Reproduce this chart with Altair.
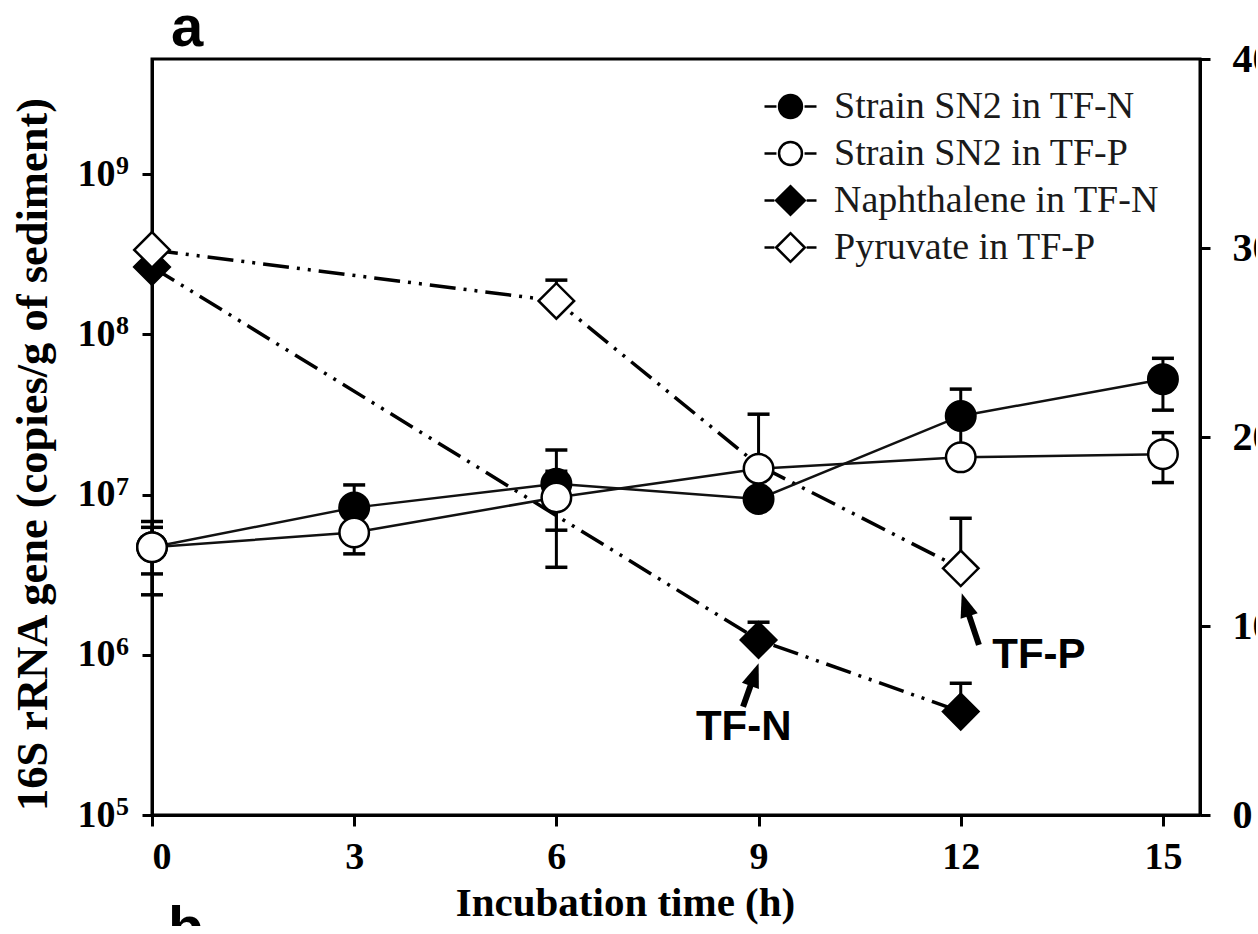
import altair as alt
import pandas as pd

# ---- 16S rRNA gene copies of strain SN2 (left axis, log scale) ----
hours = [0, 3, 6, 9, 12, 15]
sn2_tfn = [4.70e6, 8.3e6, 1.17e7, 9.4e6, 3.10e7, 5.26e7]
sn2_tfn_lo = [3.2e6, 5.2e6, 6.0e6, None, 1.7e7, 3.37e7]
sn2_tfn_hi = [6.8e6, 1.15e7, 1.90e7, None, 4.56e7, 7.1e7]
sn2_tfp = [4.70e6, 5.8e6, 9.6e6, 1.45e7, 1.71e7, 1.79e7]
sn2_tfp_lo = [2.37e6, 4.27e6, 3.52e6, None, None, 1.19e7]
sn2_tfp_hi = [6.25e6, 7.4e6, 1.4e7, 3.18e7, None, 2.44e7]

# ---- substrate concentrations (right axis) ----
naph_hours = [0, 9, 12]
naph = [29.0, 9.26, 5.47]
naph_hi = [None, 10.2, 6.97]
pyr_hours = [0, 6, 9, 12]
pyr = [29.9, 27.2, 18.5, 13.05]
pyr_hi = [None, 28.3, None, 15.7]

series_names = ["Strain SN2 in TF-N", "Strain SN2 in TF-P",
                "Naphthalene in TF-N", "Pyruvate in TF-P"]
marker_fills = ["black", "white", "black", "white"]

# axis tick values
x_ticks = [0, 3, 6, 9, 12, 15]
decades = [5, 6, 7, 8, 9]
conc_ticks = [0, 10, 20, 30, 40]

# annotations (in data units of the right axis)
arrow_labels = ["TF-N", "TF-P"]
label_t = [8.78, 13.16]
label_v = [4.66, 8.47]
arrow_tail_t = [8.77, 12.27]
arrow_tail_v = [5.73, 9.0]
arrow_head_t = [8.94, 12.07]
arrow_head_v = [7.43, 11.13]
arrow_angle = [20, 342]
panel_letters = ["a", "b"]
letter_t = [0.52, 0.5]
letter_v = [40.7, -7.0]

SERIF = "Liberation Serif"
SANS = "Liberation Sans"

cells = pd.DataFrame({
    "t": hours + hours,
    "v": sn2_tfn + sn2_tfp,
    "lo": sn2_tfn_lo + sn2_tfp_lo,
    "hi": sn2_tfn_hi + sn2_tfp_hi,
    "series": [series_names[0]] * len(hours) + [series_names[1]] * len(hours),
})
subs = pd.DataFrame({
    "t": naph_hours + pyr_hours,
    "v": naph + pyr,
    "hi": naph_hi + pyr_hi,
    "series": [series_names[2]] * len(naph_hours) + [series_names[3]] * len(pyr_hours),
})
arrows = pd.DataFrame({
    "label": arrow_labels, "lt": label_t, "lv": label_v,
    "t0": arrow_tail_t, "v0": arrow_tail_v,
    "t1": arrow_head_t, "v1": arrow_head_v, "ang": arrow_angle,
})
letters = pd.DataFrame({"txt": panel_letters, "t": letter_t, "v": letter_v})
exps = pd.DataFrame({"e": [str(d) for d in decades]})
legend_rows = pd.DataFrame({"entry": series_names})

# ---- shared scales / axes ----
x_scale = alt.Scale(domain=[0, 15.55], nice=False, zero=False)
x_axis = alt.Axis(
    values=x_ticks, format="d", grid=False, title="Incubation time (h)",
    labelFont=SERIF, labelFontSize=38, labelFontWeight="bold", labelColor="black",
    labelPadding=12, tickSize=11, tickWidth=3, tickColor="black",
    domainWidth=3, domainColor="black",
    titleFont=SERIF, titleFontSize=41, titleFontWeight="bold", titleColor="black",
    titleX=473, titleY=100, titleAlign="center", titleBaseline="alphabetic",
)


def X(field="t"):
    return alt.X(f"{field}:Q", scale=x_scale, axis=x_axis)


ly_scale = alt.Scale(type="log", domain=[1e5, 10 ** 9.72], nice=False)
ly_axis = alt.Axis(
    orient="left", values=[10.0 ** d for d in decades], labelExpr="'10'", grid=False,
    title="16S rRNA gene (copies/g of sediment)",
    labelFont=SERIF, labelFontSize=38, labelFontWeight="bold", labelColor="black",
    labelPadding=27, tickSize=10, tickWidth=3, tickColor="black",
    domainWidth=3, domainColor="black",
    titleFont=SERIF, titleFontSize=44.5, titleFontWeight="bold", titleColor="black",
    titleAngle=270, titleX=-119, titleY=395, titleAlign="center", titleBaseline="middle",
)


def LY(field):
    return alt.Y(f"{field}:Q", scale=ly_scale, axis=ly_axis)


ry_scale = alt.Scale(domain=[0, 40], nice=False, zero=True)
ry_axis = alt.Axis(
    orient="right", values=conc_ticks, format="d", grid=False, title="",
    labelFont=SERIF, labelFontSize=40, labelFontWeight="bold", labelColor="black",
    labelPadding=22, tickSize=10, tickWidth=3, tickColor="black",
    domainWidth=3, domainColor="black",
)


def RY(field):
    return alt.Y(f"{field}:Q", scale=ry_scale, axis=ry_axis)


# ---- strain SN2 (left axis) ----
cell_base = alt.Chart(cells)
cell_lines = cell_base.mark_line(color="#111111", strokeWidth=2.5).encode(
    x=X(), y=LY("v"), detail="series:N", order="t:Q")
cell_err_base = cell_base.transform_fold(["lo", "hi"], as_=["end", "e"]).transform_filter(
    "isValid(datum.e)")
cell_err = cell_err_base.mark_rule(color="black", strokeWidth=3).encode(
    x=X(), y=LY("v"), y2="e:Q")
cell_caps = cell_err_base.mark_tick(orient="horizontal", size=22, thickness=3.5,
                                    color="black", opacity=1).encode(x=X(), y=LY("e"))
cell_pts = cell_base.mark_point(shape="circle", filled=True, stroke="black", strokeWidth=2.5,
                                size=870, opacity=1).encode(
    x=X(), y=LY("v"),
    fill=alt.Fill("series:N", scale=alt.Scale(domain=series_names[:2], range=marker_fills[:2]),
                  legend=None))
exp_text = alt.Chart(exps).transform_calculate(p="pow(10, toNumber(datum.e))").mark_text(
    font=SERIF, fontSize=26, fontWeight="bold", align="left", baseline="middle",
    dy=-8, color="black").encode(x=alt.value(-36), y=LY("p"), text="e:N")

left = alt.layer(cell_lines, cell_err, cell_caps, cell_pts, exp_text)

# ---- substrates (right axis) ----
sub_base = alt.Chart(subs)
sub_lines = sub_base.mark_line(color="black", strokeWidth=3.5, strokeDash=[26, 8, 3, 8, 3, 8],
                               strokeCap="butt").encode(
    x=X(), y=RY("v"), detail="series:N", order="t:Q")
sub_err_base = sub_base.transform_filter("isValid(datum.hi)")
sub_err = sub_err_base.mark_rule(color="black", strokeWidth=3).encode(
    x=X(), y=RY("v"), y2="hi:Q")
sub_caps = sub_err_base.mark_tick(orient="horizontal", size=22, thickness=3.5,
                                  color="black", opacity=1).encode(x=X(), y=RY("hi"))
# the 9 h pyruvate point lies under the SN2 TF-P marker, so only its line vertex is drawn
sub_pts = sub_base.transform_filter(
    "!(datum.t == 9 && datum.series == 'Pyruvate in TF-P')"
).mark_point(shape="diamond", filled=True, stroke="black", strokeWidth=2.5,
             size=1260, opacity=1).encode(
    x=X(), y=RY("v"),
    fill=alt.Fill("series:N", scale=alt.Scale(domain=series_names[2:], range=marker_fills[2:]),
                  legend=None))

arrow_base = alt.Chart(arrows)
shafts = arrow_base.mark_rule(color="black", strokeWidth=6).encode(
    x=X("t0"), y=RY("v0"), x2="t1:Q", y2="v1:Q")
heads = arrow_base.mark_point(shape="M0,-1L0.75,1L-0.75,1Z", filled=True, color="black",
                              size=576, opacity=1).encode(
    x=X("t1"), y=RY("v1"), angle=alt.Angle("ang:Q", scale=None))
arrow_text = arrow_base.mark_text(font=SANS, fontSize=42, fontWeight="bold", color="black",
                                  align="center", baseline="middle").encode(
    x=X("lt"), y=RY("lv"), text="label:N")
letter_text = alt.Chart(letters).mark_text(font=SANS, fontSize=58, fontWeight="bold",
                                           color="black", align="center",
                                           baseline="alphabetic").encode(
    x=X("t"), y=RY("v"), text="txt:N")

right = alt.layer(sub_lines, sub_err, sub_caps, sub_pts, shafts, heads, arrow_text, letter_text)

# ---- legend: "-marker-" symbols drawn as custom paths ----
dash_circle = "M-1,0H-0.54M0.54,0H1M-0.44,0A0.44,0.44 0 1 1 0.44,0A0.44,0.44 0 1 1 -0.44,0Z"
dash_diamond = "M-1,0H-0.62M0.62,0H1M-0.55,0L0,-0.55L0.55,0L0,0.55Z"
legend_def = alt.Legend(
    orient="none", legendX=611, legendY=24, padding=0, offset=0,
    labelFont=SERIF, labelFontSize=38, labelColor="#1a1a1a", labelOffset=16, labelLimit=700,
    symbolSize=2704, symbolStrokeWidth=2.5, clipHeight=47, rowPadding=0,
)
legend_layer = alt.Chart(legend_rows).mark_point(clip=True, filled=True, size=2704,
                                                 strokeWidth=2.5, opacity=1).encode(
    x=alt.value(-3000), y=alt.value(-3000),
    shape=alt.Shape("entry:N", title=None, legend=legend_def,
                    scale=alt.Scale(domain=series_names,
                                    range=[dash_circle, dash_circle, dash_diamond, dash_diamond])),
    fill=alt.Fill("entry:N", title=None, legend=legend_def,
                  scale=alt.Scale(domain=series_names, range=marker_fills)),
    stroke=alt.Stroke("entry:N", title=None, legend=legend_def,
                      scale=alt.Scale(domain=series_names, range=["black"] * 4)),
)

chart = alt.layer(right, left, legend_layer).resolve_scale(
    y="independent", fill="independent", shape="independent", stroke="independent"
).properties(
    width=1048, height=756,
    padding={"left": 152, "top": 59, "right": 56, "bottom": 111},
    autosize=alt.AutoSizeParams(type="none"),
    background="white",
).configure_view(stroke="black", strokeWidth=3)

chart.save("out.html", embed_options={"renderer": "svg", "actions": False})
